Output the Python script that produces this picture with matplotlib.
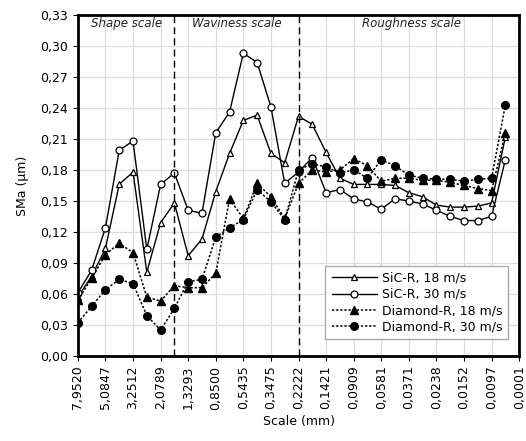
import numpy as np
import matplotlib
matplotlib.use("Agg")
import matplotlib.pyplot as plt
from matplotlib.ticker import FuncFormatter

plt.rcParams['font.family'] = ['DejaVu Sans']

# tick labels of the scale axis (every second data point)
scale_labels = ["7,9520", "5,0847", "3,2512", "2,0789", "1,3293", "0,8500",
                "0,5435", "0,3475", "0,2222", "0,1421", "0,0909", "0,0581",
                "0,0371", "0,0238", "0,0152", "0,0097", "0,0001"]

# SMa values (um), 32 scales from coarse to fine
sic_18 = [0.057, 0.077, 0.104, 0.166, 0.178, 0.081, 0.129, 0.148,
          0.097, 0.113, 0.159, 0.196, 0.228, 0.233, 0.196, 0.187,
          0.232, 0.224, 0.197, 0.172, 0.166, 0.166, 0.166, 0.165,
          0.158, 0.154, 0.146, 0.144, 0.144, 0.145, 0.148, 0.212]
sic_30 = [0.061, 0.083, 0.124, 0.199, 0.208, 0.103, 0.166, 0.177,
          0.141, 0.138, 0.216, 0.236, 0.293, 0.284, 0.241, 0.167,
          0.178, 0.192, 0.158, 0.161, 0.152, 0.149, 0.142, 0.152,
          0.150, 0.147, 0.141, 0.135, 0.131, 0.131, 0.135, 0.190]
dia_18 = [0.054, 0.075, 0.098, 0.109, 0.100, 0.057, 0.053, 0.068,
          0.066, 0.066, 0.080, 0.152, 0.133, 0.167, 0.154, 0.133,
          0.167, 0.180, 0.178, 0.180, 0.191, 0.184, 0.169, 0.172,
          0.172, 0.170, 0.170, 0.168, 0.165, 0.162, 0.160, 0.216]
dia_30 = [0.032, 0.048, 0.064, 0.074, 0.070, 0.039, 0.025, 0.046,
          0.072, 0.074, 0.115, 0.124, 0.132, 0.161, 0.149, 0.132,
          0.180, 0.186, 0.183, 0.177, 0.180, 0.172, 0.190, 0.184,
          0.175, 0.172, 0.171, 0.171, 0.169, 0.171, 0.172, 0.243]

# boundaries between scale regions (data index)
shape_end = 7
waviness_end = 16

x = np.arange(len(sic_18))

fig = plt.figure(figsize=(5.26, 4.41), dpi=100)
ax = fig.add_axes([0.148, 0.193, 0.839, 0.773])

ax.plot(x, sic_18, '-', color='black', lw=1.0, marker='^', ms=5,
        mfc='white', mec='black', mew=0.9, label="SiC-R, 18 m/s")
ax.plot(x, sic_30, '-', color='black', lw=1.0, marker='o', ms=5,
        mfc='white', mec='black', mew=0.9, label="SiC-R, 30 m/s")
ax.plot(x, dia_18, color='black', ls=(0, (1.5, 1.2)), lw=1.1, marker='^', ms=5.5,
        mfc='black', mec='black', label="Diamond-R, 18 m/s")
ax.plot(x, dia_30, color='black', ls=(0, (1.5, 1.2)), lw=1.1, marker='o', ms=5.5,
        mfc='black', mec='black', label="Diamond-R, 30 m/s")

ax.axvline(shape_end, color='black', ls=(0, (5, 3)), lw=1.0)
ax.axvline(waviness_end, color='black', ls=(0, (5, 3)), lw=1.0)

ax.set_xlim(0, 2 * (len(scale_labels) - 1))
ax.set_ylim(0, 0.33)
ax.set_xticks(np.arange(0, 2 * len(scale_labels), 2))
ax.set_xticklabels(scale_labels, rotation=90, fontsize=9)
ax.set_yticks(np.arange(0, 0.331, 0.03))
ax.yaxis.set_major_formatter(FuncFormatter(lambda v, p: f"{v:.2f}".replace('.', ',')))
ax.tick_params(axis='y', labelsize=9)
ax.grid(True, color='#dddddd', lw=0.9)
ax.set_axisbelow(True)
for s in ax.spines.values():
    s.set_linewidth(2.0)

ax.set_xlabel("Scale (mm)", fontsize=9)
ax.set_ylabel("SMa (µm)", fontsize=9, labelpad=8)

ax.text(3.5, 0.322, "Shape scale", style='italic', fontsize=8.5, ha='center', va='center', color='#222222')
ax.text(11.5, 0.322, "Waviness scale", style='italic', fontsize=8.5, ha='center', va='center', color='#222222')
ax.text(24.2, 0.322, "Roughness scale", style='italic', fontsize=8.5, ha='center', va='center', color='#222222')

ax.legend(loc='lower right', fontsize=9, fancybox=False, framealpha=1,
          edgecolor='#aaaaaa', handlelength=3.6, borderpad=0.5,
          labelspacing=0.25, handletextpad=0.4, bbox_to_anchor=(0.99, 0.03))

fig.savefig("out.png", dpi=100)
